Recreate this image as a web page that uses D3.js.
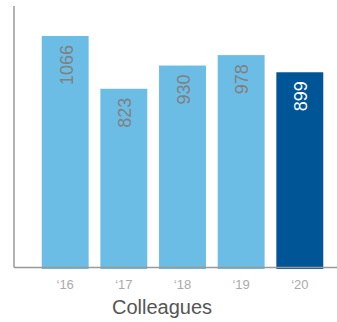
<!DOCTYPE html>
<html>
<head>
<meta charset="utf-8">
<script src="https://cdn.jsdelivr.net/npm/d3@7"></script>
<style>
  body { margin: 0; background: #fff; }
  svg { display: block; font-family: "Liberation Sans", Arial, Helvetica, sans-serif; }
</style>
</head>
<body>
<div id="chart"></div>
<script>
const years = ['\u201816', '\u201817', '\u201818', '\u201819', '\u201820'];
const colleagues = [1066, 823, 930, 978, 899];
const title = 'Colleagues';

const width = 337, height = 322;
const baseY = 267.5;

const svg = d3.select('#chart')
  .append('svg')
  .attr('width', width)
  .attr('height', height);

const x = d3.scaleBand()
  .domain(years)
  .range([30, 335])
  .paddingInner(0.2)
  .paddingOuter(0.2);

const y = d3.scaleLinear()
  .domain([0, d3.max(colleagues)])
  .range([baseY, 36]);

const data = years.map((yr, i) => ({ year: yr, value: colleagues[i], last: i === years.length - 1 }));

// bars
svg.selectAll('.bar')
  .data(data)
  .enter()
  .append('rect')
  .attr('class', 'bar')
  .attr('x', d => x(d.year))
  .attr('y', d => y(d.value))
  .attr('width', x.bandwidth())
  .attr('height', d => baseY + 1.5 - y(d.value))
  .attr('fill', d => d.last ? '#005596' : '#6cbde6');

// value labels, rotated
svg.selectAll('.val')
  .data(data)
  .enter()
  .append('text')
  .attr('class', 'val')
  .attr('transform', d => `translate(${x(d.year) + x.bandwidth() / 2 + 1},${y(d.value) + 9})rotate(-90)`)
  .attr('text-anchor', 'end')
  .attr('dy', '0.35em')
  .style('font-size', '18px')
  .style('fill', d => d.last ? '#ffffff' : '#808080')
  .text(d => d.value);

// axes lines
svg.append('line')
  .attr('x1', 14).attr('x2', 14)
  .attr('y1', 6).attr('y2', baseY)
  .attr('stroke', '#999').attr('stroke-width', 1.5);

svg.append('line')
  .attr('x1', 14).attr('x2', width)
  .attr('y1', baseY).attr('y2', baseY)
  .attr('stroke', '#999').attr('stroke-width', 1.5);

// x tick labels
svg.selectAll('.tick-label')
  .data(years)
  .enter()
  .append('text')
  .attr('class', 'tick-label')
  .attr('x', d => x(d) + x.bandwidth() / 2)
  .attr('y', 289)
  .attr('text-anchor', 'middle')
  .style('font-size', '13px')
  .style('fill', '#aaaaaa')
  .text(d => d);

svg.append('text')
  .attr('x', 162)
  .attr('y', 314)
  .attr('text-anchor', 'middle')
  .style('font-size', '20px')
  .style('fill', '#555555')
  .text(title);
</script>
</body>
</html>
